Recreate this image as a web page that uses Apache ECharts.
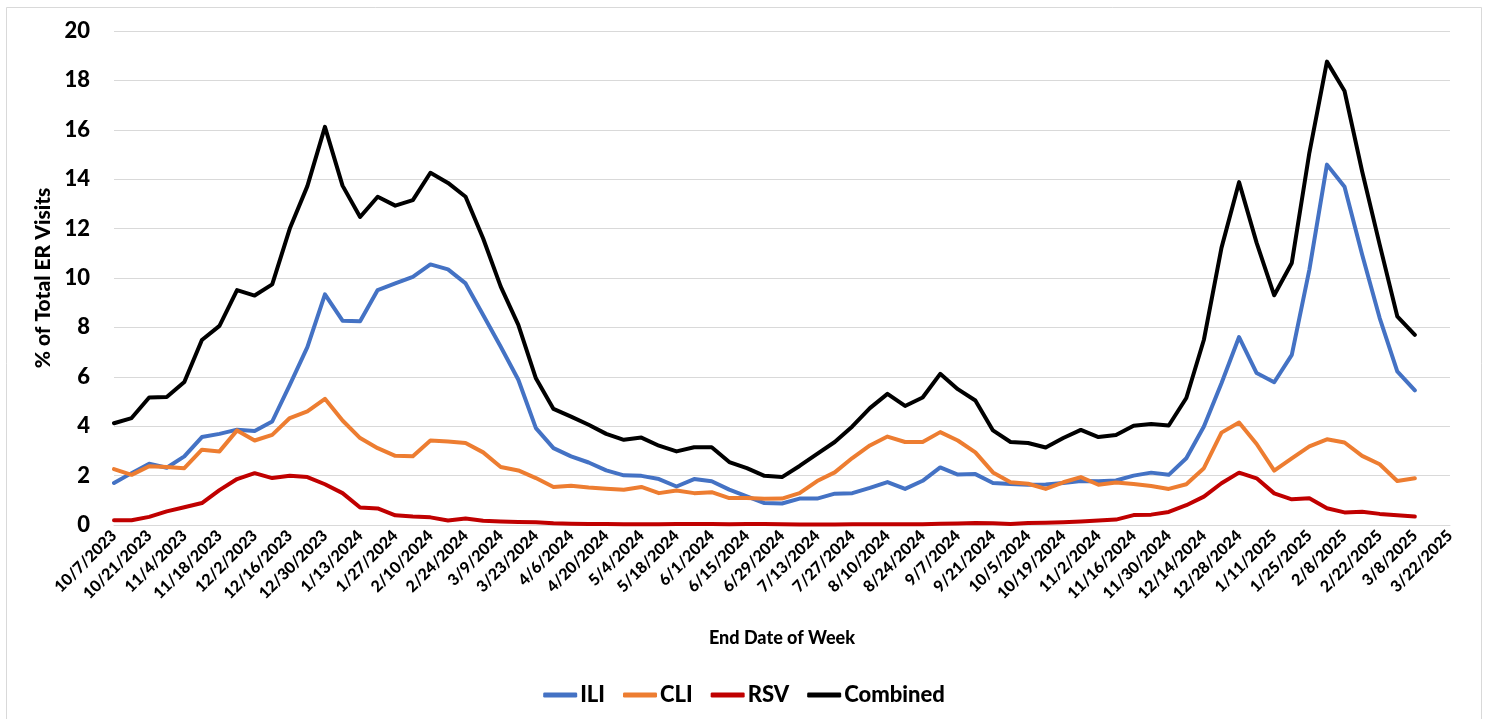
<!DOCTYPE html>
<html>
<head>
<meta charset="utf-8">
<script src="https://cdn.jsdelivr.net/npm/echarts@6/dist/echarts.min.js"></script>
<style>
  html, body { margin: 0; padding: 0; background: #fff; }
  #chart { width: 1488px; height: 719px; }
</style>
</head>
<body>
<div id="chart"></div>
<script>
// week end dates (x axis)
const weeks = [
  "10/7/2023", "10/14/2023", "10/21/2023", "10/28/2023", "11/4/2023", "11/11/2023",
  "11/18/2023", "11/25/2023", "12/2/2023", "12/9/2023", "12/16/2023", "12/23/2023",
  "12/30/2023", "1/6/2024", "1/13/2024", "1/20/2024", "1/27/2024", "2/3/2024",
  "2/10/2024", "2/17/2024", "2/24/2024", "3/2/2024", "3/9/2024", "3/16/2024",
  "3/23/2024", "3/30/2024", "4/6/2024", "4/13/2024", "4/20/2024", "4/27/2024",
  "5/4/2024", "5/11/2024", "5/18/2024", "5/25/2024", "6/1/2024", "6/8/2024",
  "6/15/2024", "6/22/2024", "6/29/2024", "7/6/2024", "7/13/2024", "7/20/2024",
  "7/27/2024", "8/3/2024", "8/10/2024", "8/17/2024", "8/24/2024", "8/31/2024",
  "9/7/2024", "9/14/2024", "9/21/2024", "9/28/2024", "10/5/2024", "10/12/2024",
  "10/19/2024", "10/26/2024", "11/2/2024", "11/9/2024", "11/16/2024", "11/23/2024",
  "11/30/2024", "12/7/2024", "12/14/2024", "12/21/2024", "12/28/2024", "1/4/2025",
  "1/11/2025", "1/18/2025", "1/25/2025", "2/1/2025", "2/8/2025", "2/15/2025",
  "2/22/2025", "3/1/2025", "3/8/2025", "3/15/2025", "3/22/2025"
];

// % of total ER visits (ends at 3/8/2025)
const ili = [
  1.70, 2.10, 2.48, 2.32, 2.78, 3.56, 3.69, 3.86, 3.81, 4.19,
  5.67, 7.20, 9.34, 8.27, 8.25, 9.51, 9.78, 10.05, 10.55, 10.35,
  9.78, 8.50, 7.22, 5.88, 3.92, 3.11, 2.78, 2.53, 2.21, 2.01,
  1.99, 1.86, 1.56, 1.86, 1.77, 1.43, 1.16, 0.89, 0.87, 1.07,
  1.07, 1.27, 1.29, 1.50, 1.74, 1.46, 1.79, 2.33, 2.04, 2.06,
  1.70, 1.66, 1.63, 1.64, 1.70, 1.78, 1.77, 1.80, 2.00, 2.12,
  2.03, 2.70, 3.99, 5.74, 7.61, 6.15, 5.78, 6.89, 10.34, 14.59,
  13.69, 10.95, 8.38, 6.22, 5.45
];
const cli = [
  2.26, 2.03, 2.38, 2.35, 2.30, 3.05, 2.98, 3.83, 3.42, 3.65,
  4.33, 4.60, 5.11, 4.23, 3.52, 3.11, 2.80, 2.78, 3.42, 3.38,
  3.32, 2.94, 2.35, 2.21, 1.90, 1.54, 1.59, 1.52, 1.47, 1.43,
  1.54, 1.29, 1.40, 1.29, 1.33, 1.09, 1.09, 1.06, 1.07, 1.29,
  1.78, 2.13, 2.71, 3.22, 3.58, 3.36, 3.36, 3.76, 3.42, 2.94,
  2.13, 1.73, 1.67, 1.46, 1.73, 1.94, 1.63, 1.72, 1.66, 1.58,
  1.46, 1.65, 2.30, 3.74, 4.15, 3.28, 2.20, 2.70, 3.18, 3.47,
  3.34, 2.80, 2.46, 1.78, 1.89
];
const rsv = [
  0.19, 0.19, 0.33, 0.55, 0.72, 0.89, 1.41, 1.86, 2.10, 1.90,
  1.99, 1.94, 1.65, 1.29, 0.71, 0.67, 0.39, 0.34, 0.31, 0.18,
  0.26, 0.17, 0.14, 0.12, 0.11, 0.07, 0.05, 0.04, 0.04, 0.03,
  0.03, 0.03, 0.04, 0.04, 0.04, 0.03, 0.04, 0.04, 0.03, 0.02,
  0.02, 0.02, 0.03, 0.03, 0.03, 0.03, 0.03, 0.05, 0.06, 0.08,
  0.07, 0.04, 0.08, 0.09, 0.11, 0.14, 0.18, 0.22, 0.40, 0.42,
  0.53, 0.80, 1.15, 1.69, 2.12, 1.89, 1.28, 1.04, 1.08, 0.68,
  0.51, 0.54, 0.45, 0.39, 0.34
];
const combined = [
  4.12, 4.33, 5.16, 5.18, 5.79, 7.49, 8.06, 9.51, 9.29, 9.74,
  12.00, 13.72, 16.12, 13.74, 12.47, 13.29, 12.93, 13.15, 14.26, 13.85,
  13.29, 11.60, 9.65, 8.10, 5.94, 4.70, 4.39, 4.06, 3.69, 3.45,
  3.54, 3.21, 2.98, 3.15, 3.15, 2.55, 2.30, 1.99, 1.94, 2.39,
  2.88, 3.36, 3.99, 4.73, 5.31, 4.82, 5.16, 6.12, 5.50, 5.04,
  3.83, 3.36, 3.32, 3.14, 3.52, 3.85, 3.56, 3.64, 4.02, 4.09,
  4.03, 5.14, 7.50, 11.22, 13.88, 11.42, 9.30, 10.61, 15.07, 18.76,
  17.57, 14.32, 11.35, 8.45, 7.70
];

const names = ["ILI", "CLI", "RSV", "Combined"];
const colors = ["#4472C4", "#ED7D31", "#C00000", "#000000"];
const values = [ili, cli, rsv, combined];

const font = "Lato, 'Open Sans', sans-serif";

const chart = echarts.init(document.getElementById("chart"));

chart.setOption({
  animation: false,
  backgroundColor: "#fff",
  textStyle: { fontFamily: font },
  graphic: [{
    type: "rect",
    shape: { x: 6.5, y: 7.5, width: 1475, height: 730 },
    style: { fill: null, stroke: "#d9d9d9", lineWidth: 1 },
    silent: true
  }],
  grid: { left: 114, right: 38, top: 31, bottom: 194 },
  legend: {
    data: names,
    left: "center",
    top: 679,
    icon: "roundRect",
    itemWidth: 34,
    itemHeight: 5,
    itemGap: 18,
    textStyle: { fontFamily: font, fontWeight: 900, fontSize: 22, color: "#000", padding: [0, 0, 0, -2] }
  },
  xAxis: {
    type: "category",
    data: weeks,
    boundaryGap: false,
    name: "End Date of Week",
    nameLocation: "middle",
    nameGap: 104,
    nameTextStyle: { fontFamily: font, fontWeight: 900, fontSize: 18, color: "#000" },
    axisLine: { lineStyle: { color: "#d9d9d9", width: 1 } },
    axisTick: { show: false },
    axisLabel: {
      interval: 1,
      rotate: 45,
      margin: 8,
      fontFamily: font,
      fontWeight: 900,
      fontSize: 16,
      color: "#000"
    }
  },
  yAxis: {
    type: "value",
    min: 0,
    max: 20,
    interval: 2,
    name: "% of Total ER Visits",
    nameLocation: "middle",
    nameGap: 60,
    nameTextStyle: { fontFamily: font, fontWeight: 900, fontSize: 21, color: "#000" },
    axisLine: { show: false },
    axisTick: { show: false },
    axisLabel: { margin: 24, fontFamily: font, fontWeight: 900, fontSize: 22, color: "#000" },
    splitLine: { lineStyle: { color: "#d9d9d9", width: 1 } }
  },
  series: names.map((n, k) => ({
    name: n,
    type: "line",
    data: values[k],
    showSymbol: false,
    symbol: "none",
    color: colors[k],
    lineStyle: { color: colors[k], width: 4, join: "round", cap: "round" }
  }))
});
</script>
</body>
</html>
